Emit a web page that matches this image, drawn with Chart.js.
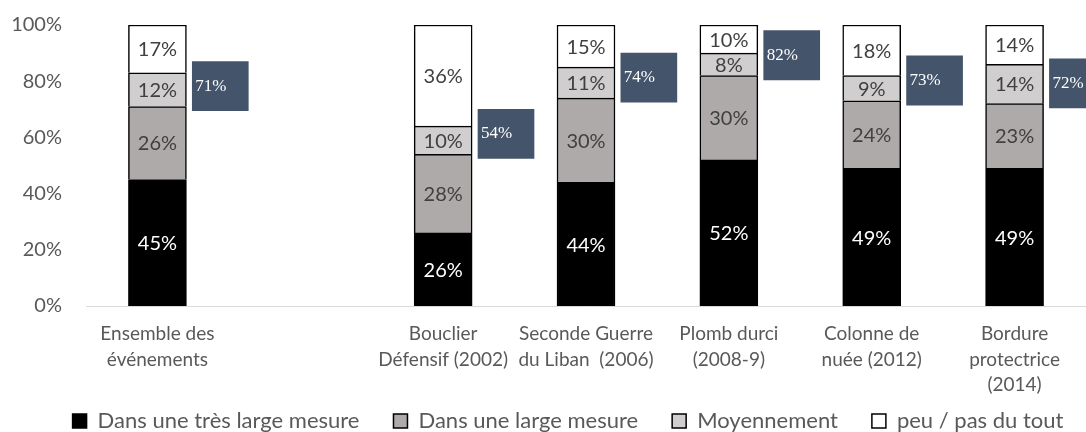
<!DOCTYPE html>
<html>
<head>
<meta charset="utf-8">
<script src="https://cdn.jsdelivr.net/npm/chart.js@4/dist/chart.umd.min.js"></script>
<style>
  html, body { margin: 0; background: #fff; }
</style>
</head>
<body>
<canvas id="chart" width="1086" height="432"></canvas>
<script>
// categories (second slot is an empty gap in the original chart)
const categories = [
  ['Ensemble des', 'événements'],
  '',
  ['Bouclier', 'Défensif (2002)'],
  ['Seconde Guerre', 'du Liban  (2006)'],
  ['Plomb durci', '(2008-9)'],
  ['Colonne de', 'nuée (2012)'],
  ['Bordure', 'protectrice', '(2014)']
];

const tresLarge = [45, null, 26, 44, 52, 49, 49];
const large     = [26, null, 28, 30, 30, 24, 23];
const moyen     = [12, null, 10, 11, 8, 9, 14];
const peu       = [17, null, 36, 15, 10, 18, 14];
const cumul     = [71, null, 54, 74, 82, 73, 72];

const yTicks = [0, 20, 40, 60, 80, 100];

const grey = '#595959';
const boxShift = 0.44;   // box sits to the right of its bar (in category units)

const toPoints = arr => arr.map((v, i) => ({ x: i, y: v }));

let boxData = [];
cumul.forEach((v, i) => {
  if (v !== null) {
    boxData.push({ x: i + boxShift, y: [v - 1.5, v + 16], v: v });
  }
});

const labelPlugin = {
  id: 'barLabels',
  afterDatasetsDraw(chart) {
    const ctx = chart.ctx;
    ctx.save();
    chart.data.datasets.forEach((ds, di) => {
      const meta = chart.getDatasetMeta(di);
      meta.data.forEach((el, idx) => {
        const raw = ds.data[idx];
        if (ds.isBox) {
          const yMid = (el.y + el.base) / 2;
          ctx.font = '17px "Liberation Serif", "Times New Roman", serif';
          ctx.fillStyle = '#ffffff';
          ctx.textAlign = 'left';
          ctx.textBaseline = 'middle';
          ctx.fillText(raw.v + '%', el.x - el.width / 2 + 3, yMid);
        } else {
          if (raw.y === null) return;
          const yMid = (el.y + el.base) / 2;
          ctx.font = '20px Lato, sans-serif';
          ctx.fillStyle = ds.labelColor;
          ctx.textAlign = 'center';
          ctx.textBaseline = 'middle';
          ctx.fillText(raw.y + '%', el.x, yMid + 1);
        }
      });
    });
    ctx.restore();
  }
};

// legend sits a bit right of centre and close to the bottom edge
const legendNudge = {
  id: 'legendNudge',
  afterLayout(chart) {
    const lg = chart.legend;
    lg.left += 25; lg.right += 25;
    lg.top -= 24; lg.bottom -= 24;
  }
};

const mainBar = {
  borderWidth: 1.5, borderColor: '#000000', stack: 'main', grouped: false,
  barPercentage: 1, categoryPercentage: 1, maxBarThickness: 58
};

const ctx = document.getElementById('chart').getContext('2d');

const chart = new Chart(ctx, {
  type: 'bar',
  data: {
    datasets: [
      Object.assign({ label: 'Dans une très large mesure', data: toPoints(tresLarge), backgroundColor: '#000000', labelColor: '#ffffff' }, mainBar),
      Object.assign({ label: 'Dans une large mesure', data: toPoints(large), backgroundColor: '#aeaaaa', labelColor: '#404040' }, mainBar),
      Object.assign({ label: 'Moyennement', data: toPoints(moyen), backgroundColor: '#d0cece', labelColor: '#404040' }, mainBar),
      Object.assign({ label: 'peu / pas du tout', data: toPoints(peu), backgroundColor: '#ffffff', labelColor: '#404040' }, mainBar),
      {
        label: 'cumul', data: boxData, isBox: true, stack: 'box', grouped: false,
        barPercentage: 1, categoryPercentage: 1, maxBarThickness: 56,
        backgroundColor: '#44546a', borderWidth: 0
      }
    ]
  },
  options: {
    responsive: false,
    animation: false,
    layout: { padding: { top: 0, right: 0, bottom: -34, left: 0 } },
    plugins: {
      tooltip: { enabled: false },
      legend: {
        position: 'bottom',
        labels: {
          color: grey,
          font: { family: 'Lato', size: 22 },
          boxWidth: 14,
          boxHeight: 14,
          padding: 34,
          filter: item => item.datasetIndex < 4
        }
      }
    },
    scales: {
      x: {
        type: 'linear',
        stacked: true,
        offset: false,
        min: -0.5,
        max: categories.length - 0.5,
        grid: { display: false, drawTicks: false },
        border: { color: '#d9d9d9', width: 1 },
        afterBuildTicks: s => {
          s.ticks = categories.map((c, i) => ({ value: i })).filter(t => categories[t.value] !== '');
        },
        ticks: {
          color: grey,
          font: { family: 'Lato', size: 19, lineHeight: 1.35 },
          padding: 15,
          maxRotation: 0,
          autoSkip: false,
          callback: v => categories[v]
        },
        afterFit: s => { s.height = 94; }
      },
      y: {
        stacked: true,
        min: 0,
        max: 100,
        grid: { display: false, drawTicks: false },
        border: { display: false },
        afterBuildTicks: s => { s.ticks = yTicks.map(v => ({ value: v })); },
        ticks: {
          color: grey,
          font: { family: 'Lato', size: 20 },
          padding: 24,
          callback: v => v + '%'
        },
        afterFit: s => { s.width = 86; s.paddingTop = 25; }
      }
    }
  },
  plugins: [labelPlugin, legendNudge]
});
</script>
</body>
</html>
